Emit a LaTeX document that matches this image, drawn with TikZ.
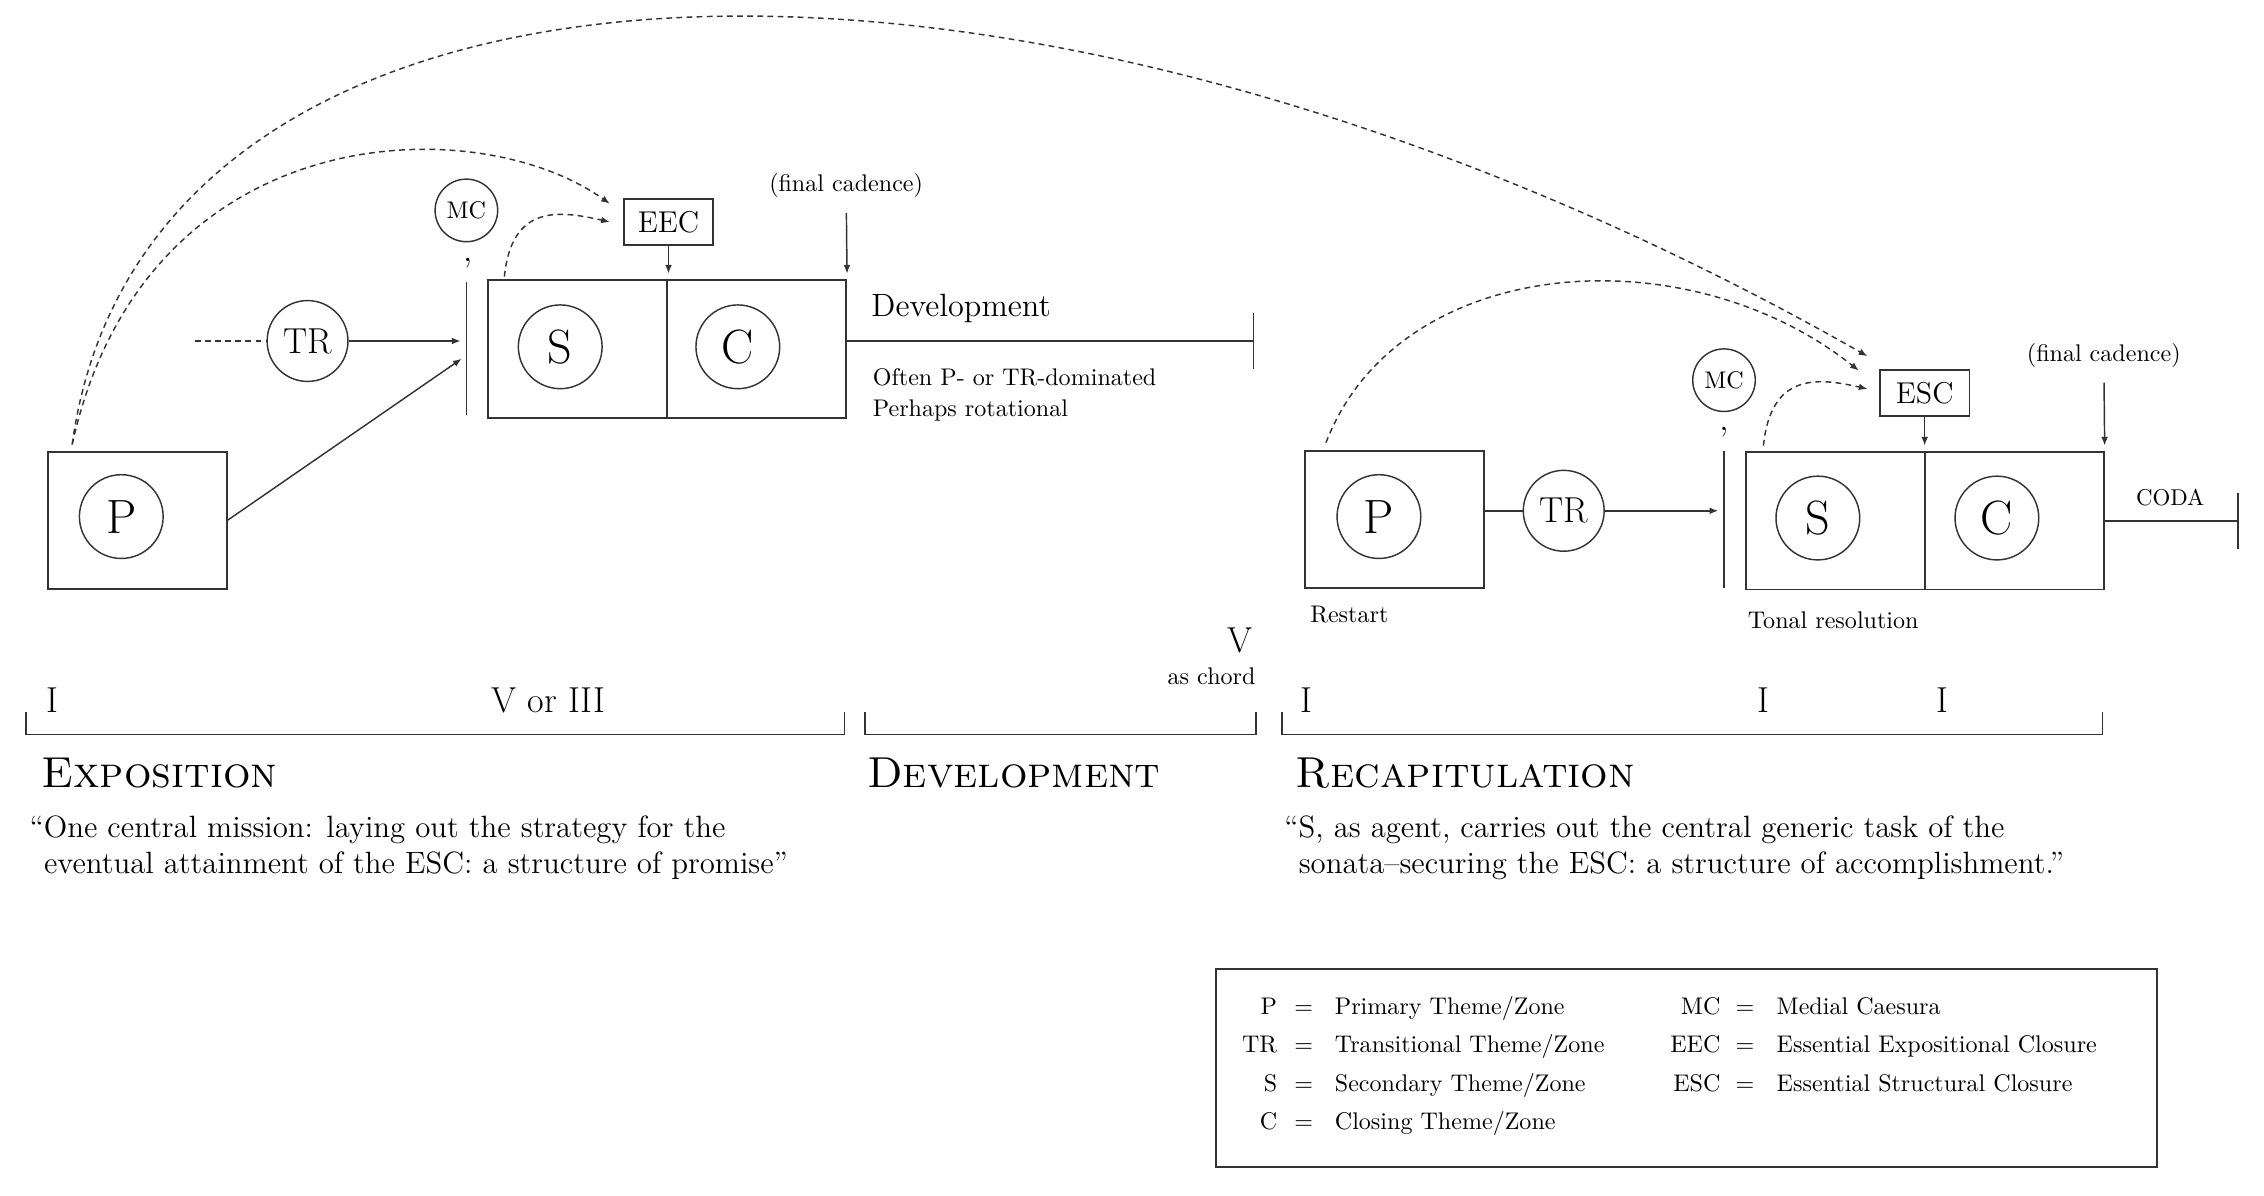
\documentclass[tikz,border=0pt]{standalone}
\usepackage{amssymb}
\usepackage{amsmath}
\usetikzlibrary{arrows.meta}

\begin{document}
\begin{tikzpicture}[x=0.6pt,y=-0.603pt,line width=0.6pt,draw=black!80,
  zone/.style={draw, rectangle, line width=0.8pt, minimum width=74.4pt, minimum height=57pt, inner sep=0pt},
  theme/.style={draw, circle, minimum size=34.8pt, inner sep=0pt, font=\fontsize{20}{20}\selectfont},
  trans/.style={draw, circle, minimum size=33.6pt, inner sep=0pt, font=\fontsize{15}{15}\selectfont},
  caesura/.style={draw, circle, minimum size=26pt, inner sep=0pt, font=\fontsize{10}{10}\selectfont},
  closure/.style={draw, rectangle, line width=0.8pt, minimum width=37.2pt, minimum height=19.2pt, inner sep=0pt, font=\fontsize{12.5}{12.5}\selectfont},
  note/.style={font=\fontsize{10}{12}\selectfont, inner sep=0pt},
  harmony/.style={font=\fontsize{15}{15}\selectfont, inner sep=0pt, anchor=base},
  partname/.style={font=\fontsize{18}{18}\selectfont, inner sep=0pt, anchor=west},
  saying/.style={font=\fontsize{12.8}{14}\selectfont, inner sep=0pt, anchor=base west},
  arr/.style={-{Latex[length=3.6pt,width=2.8pt]}},
  link/.style={arr, dash pattern=on 2.4pt off 1.8pt},
]
\useasboundingbox (0,0) rectangle (1568,824.2);

% exposition
\node[zone] (P1box) at (95,358.5) {};
\node[theme] (P1) at (84,356) {P};
\node[trans] (TR1) at (213,235) {TR};
\coordinate (in1) at (135,235);
\coordinate (bar1) at (323,240);
\node[caesura] (MC1) at (323,145) {MC};
\node[inner sep=0pt, font=\fontsize{14}{14}\selectfont] (cm1) at (324,181) {,};
\node[zone] (S1box) at (400,240.5) {};
\node[zone] (C1box) at (524,240.5) {};
\node[theme] (S1) at (388,239) {S};
\node[theme] (C1) at (511,239) {C};
\node[closure] (EEC) at (463,153) {EEC};
\node[note] (fc1) at (586,128) {(final cadence)};
\coordinate (dev) at (868,235);
\node[note, font=\fontsize{13.4}{14}\selectfont, anchor=base west] (devtext) at (603,218) {Development};
\node[note, anchor=base west] (often) at (604,266) {Often P- or TR-dominated};
\node[note, anchor=base west] (rot) at (604,287) {Perhaps rotational};

\path[draw,dash pattern=on 2.4pt off 1.8pt] (in1) -- (TR1);
\path[draw,arr,shorten >=2.4pt] (TR1) -- (TR1 -| bar1);
\path[draw,arr,shorten >=2.4pt] (P1box.east) -- ([yshift=-3pt]bar1);
\path[draw] (bar1) ++(0,-46) -- ++(0,92);
\path[draw,arr,shorten >=2.4pt] (EEC) -- (EEC |- S1box.north);
\path[draw,arr,shorten <=6pt,shorten >=2.4pt] (fc1) -- (C1box.north east);
\path[draw] (C1box.east |- dev) -- (dev);
\path[draw] (dev) ++(0,-19) -- ++(0,38);
\path[draw,link] ([xshift=7.2pt,yshift=1.2pt]S1box.north west) .. controls +(5,-50) and +(-35,-8) .. ([xshift=-5.4pt]EEC.west);
\path[draw,link] ([xshift=10.6pt,yshift=2.6pt]P1box.north west) .. controls +(50,-226) and +(-93,-66) .. ([xshift=-5.4pt,yshift=-2.4pt]EEC.north west);

% recapitulation
\node[zone] (P2box) at (966,358) {};
\node[theme] (P2) at (955,356) {P};
\node[trans] (TR2) at (1083,352) {TR};
\coordinate (bar2) at (1194,358);
\node[caesura] (MC2) at (1194,262) {MC};
\node[inner sep=0pt, font=\fontsize{14}{14}\selectfont] (cm2) at (1194,298) {,};
\node[zone] (S2box) at (1271,359) {};
\node[zone] (C2box) at (1395,359) {};
\node[theme] (S2) at (1259,357) {S};
\node[theme] (C2) at (1383,357) {C};
\node[closure] (ESC) at (1333,271) {ESC};
\node[note] (fc2) at (1457,245) {(final cadence)};
\coordinate (coda) at (1550,359);
\node[note, font=\fontsize{9.5}{10}\selectfont] (codatext) at (1503,343) {CODA};
\node[note, anchor=base west] (restart) at (907,429) {Restart};
\node[note, anchor=base west] (tonal) at (1210,433) {Tonal resolution};

\path[draw] (P2box.east |- TR2) -- (TR2);
\path[draw,arr,shorten >=2.4pt] (TR2) -- (TR2 -| bar2);
\path[draw] (bar2) ++(0,-47) -- ++(0,94);
\path[draw,arr,shorten >=2.4pt] (ESC) -- (ESC |- S2box.north);
\path[draw,arr,shorten <=6pt,shorten >=2.4pt] (fc2) -- (C2box.north east);
\path[draw] (C2box.east) -- (coda);
\path[draw] (coda) ++(0,-19) -- ++(0,38);
\path[draw,link] ([xshift=7.8pt,yshift=2.4pt]S2box.north west) .. controls +(5,-50) and +(-35,-8) .. ([xshift=-4.8pt,yshift=1.8pt]ESC.west);
\path[draw,link] ([xshift=9pt,yshift=3pt]P2box.north west) .. controls +(50,-130) and +(-120,-95) .. ([xshift=-8.4pt,yshift=-0.6pt]ESC.north west);
\path[draw,link] ([xshift=10.6pt,yshift=2.6pt]P1box.north west) .. controls +(50,-366) and +(-594,-336) .. ([xshift=-4.8pt,yshift=5.4pt]ESC.north west);

% keys and brackets
\node[harmony] (k1) at (36,491) {I};
\node[harmony] (k2) at (380,491) {V or III};
\node[harmony] (k3) at (859,450) {V};
\node[note, anchor=base east] (k3b) at (870,472) {as chord};
\node[harmony] (k4) at (905,491) {I};
\node[harmony] (k5) at (1221,491) {I};
\node[harmony] (k6) at (1345,491) {I};
\path[draw] (18,491) |- (585,506) -- (585,491);
\path[draw] (599,491) |- (870,506) -- (870,491);
\path[draw] (888,491) |- (1456,506) -- (1456,491);

\node[partname] (expo) at (28,533) {\textsc{Exposition}};
\node[partname] (devel) at (600,533) {\textsc{Development}};
\node[partname] (recap) at (897,533) {\textsc{Recapitulation}};
\node[saying] (q1a) at (20,577) {“One central mission: laying out the strategy for the};
\node[saying] (q1b) at (30,602) {eventual attainment of the ESC: a structure of promise”};
\node[saying] (q2a) at (889,577) {“S, as agent, carries out the central generic task of the};
\node[saying] (q2b) at (899,602) {sonata–securing the ESC: a structure of accomplishment.”};

% legend
\path[draw,line width=0.8pt] (842,668) rectangle (1494,804);
\node[note, anchor=base east] (l1) at (885,699) {P};
\node[note, anchor=base] (e1) at (903,699) {=};
\node[note, anchor=base west] (d1) at (924,699) {Primary Theme/Zone};
\node[note, anchor=base east] (l2) at (885,725.5) {TR};
\node[note, anchor=base] (e2) at (903,725.5) {=};
\node[note, anchor=base west] (d2) at (924,725.5) {Transitional Theme/Zone};
\node[note, anchor=base east] (l3) at (885,752) {S};
\node[note, anchor=base] (e3) at (903,752) {=};
\node[note, anchor=base west] (d3) at (924,752) {Secondary Theme/Zone};
\node[note, anchor=base east] (l4) at (885,778.5) {C};
\node[note, anchor=base] (e4) at (903,778.5) {=};
\node[note, anchor=base west] (d4) at (924,778.5) {Closing Theme/Zone};
\node[note, anchor=base east] (l5) at (1192,699) {MC};
\node[note, anchor=base] (e5) at (1208.5,699) {=};
\node[note, anchor=base west] (d5) at (1230,699) {Medial Caesura};
\node[note, anchor=base east] (l6) at (1192,725.5) {EEC};
\node[note, anchor=base] (e6) at (1208.5,725.5) {=};
\node[note, anchor=base west] (d6) at (1230,725.5) {Essential Expositional Closure};
\node[note, anchor=base east] (l7) at (1192,752) {ESC};
\node[note, anchor=base] (e7) at (1208.5,752) {=};
\node[note, anchor=base west] (d7) at (1230,752) {Essential Structural Closure};
\end{tikzpicture}
\end{document}
